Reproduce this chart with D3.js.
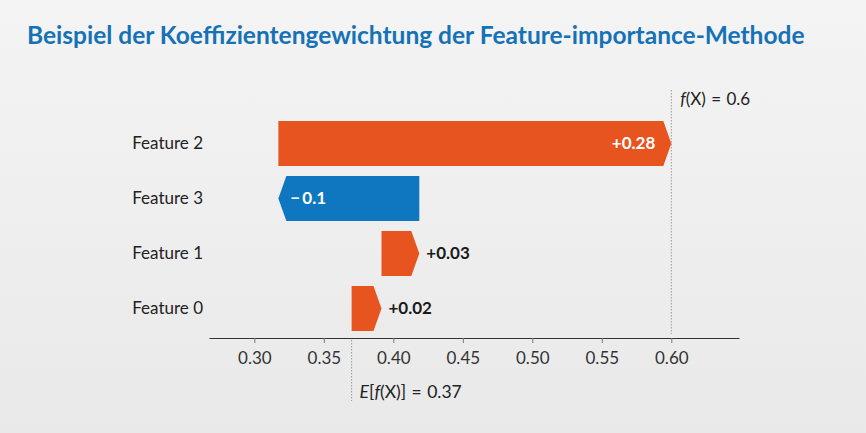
<!DOCTYPE html>
<html>
<head>
<meta charset="utf-8">
<script src="https://cdn.jsdelivr.net/npm/d3@7"></script>
<style>
  html, body { margin: 0; padding: 0; }
  body { width: 866px; height: 433px; overflow: hidden; }
</style>
</head>
<body>
<svg id="chart" width="866" height="433"></svg>
<script>
/////////////////////////
// Données
/////////////////////////

var features = ["Feature 2", "Feature 3", "Feature 1", "Feature 0"];
var contributions = [0.2827, -0.1014, 0.0272, 0.0215];   // valeurs SHAP
var valueLabels = ["+0.28", "\u2212\u20090.1", "+0.03", "+0.02"];
var baseValue = 0.37;        // E[f(X)]
var outputValue = 0.60;      // f(X)
var tickValues = [0.30, 0.35, 0.40, 0.45, 0.50, 0.55, 0.60];

var posColor = "#e8541f";
var negColor = "#0e77bf";

/////////////////////////
// Mise en place
/////////////////////////

var svg = d3.select("#chart");

var bg = svg.append("defs").append("linearGradient")
    .attr("id", "bg").attr("x1", 0).attr("y1", 0).attr("x2", 0).attr("y2", 1);
bg.append("stop").attr("offset", "0%").attr("stop-color", "#f4f4f4");
bg.append("stop").attr("offset", "100%").attr("stop-color", "#e9e9e9");

svg.append("rect").attr("width", 866).attr("height", 433).attr("fill", "url(#bg)");

svg.append("text")
    .attr("x", 27).attr("y", 44)
    .attr("font-family", "Lato").attr("font-weight", 700).attr("font-size", "24.5px")
    .attr("fill", "#1672b6")
    .text("Beispiel der Koeffizientengewichtung der Feature-importance-Methode");

var x = d3.scaleLinear().domain([0.2674, 0.6487]).range([209, 739]);
var y = d3.scalePoint().domain(features).range([143.5, 308.5]);
var barH = 45, tip = 8;

// cumul des contributions, du bas (Feature 0) vers le haut
var rows = [];
var acc = baseValue;
for (var i = features.length - 1; i >= 0; i--) {
    rows.push({ name: features[i], v: contributions[i], label: valueLabels[i], start: acc, end: acc + contributions[i] });
    acc += contributions[i];
}

/////////////////////////
// Lignes de référence
/////////////////////////

svg.append("line")
    .attr("x1", x(outputValue)).attr("x2", x(outputValue))
    .attr("y1", 90).attr("y2", 334)
    .attr("stroke", "#999").attr("stroke-width", 1).attr("stroke-dasharray", "1.5,1.5");

svg.append("line")
    .attr("x1", x(baseValue)).attr("x2", x(baseValue))
    .attr("y1", 340).attr("y2", 401)
    .attr("stroke", "#999").attr("stroke-width", 1).attr("stroke-dasharray", "1.5,1.5");

/////////////////////////
// Barres
/////////////////////////

function arrowPath(d) {
    var cy = y(d.name), t = cy - barH / 2, b = cy + barH / 2;
    var x0 = x(d.start), x1 = x(d.end);
    var dir = d.v >= 0 ? 1 : -1;
    var k = Math.min(tip, Math.abs(x1 - x0));
    return "M" + x0 + "," + t +
        "L" + (x1 - dir * k) + "," + t +
        "L" + x1 + "," + cy +
        "L" + (x1 - dir * k) + "," + b +
        "L" + x0 + "," + b + "Z";
}

var bars = svg.append("g").attr("id", "bars")
    .selectAll("g").data(rows).enter().append("g");

bars.append("path")
    .attr("d", arrowPath)
    .attr("fill", function(d){ return d.v >= 0 ? posColor : negColor; });

bars.append("text")
    .attr("font-family", "Lato").attr("font-weight", 700).attr("font-size", "17px")
    .attr("dy", "0.35em")
    .attr("y", function(d){ return y(d.name); })
    .each(function(d) {
        var w = Math.abs(x(d.end) - x(d.start));
        var inside = w > 60;
        var t = d3.select(this);
        if (inside) {
            t.attr("fill", "#fff");
            if (d.v >= 0) t.attr("x", x(d.end) - 16).attr("text-anchor", "end");
            else t.attr("x", x(d.end) + 12).attr("text-anchor", "start");
        } else {
            t.attr("fill", "#1a1a1a");
            if (d.v >= 0) t.attr("x", x(d.end) + 7).attr("text-anchor", "start");
            else t.attr("x", x(d.end) - 7).attr("text-anchor", "end");
        }
    })
    .text(function(d){ return d.label; });

// noms des features
svg.append("g").attr("id", "labels")
    .selectAll("text").data(features).enter().append("text")
    .attr("x", 203)
    .attr("y", function(d){ return y(d); })
    .attr("dy", "0.35em")
    .attr("text-anchor", "end")
    .attr("font-family", "Lato").attr("font-size", "17px")
    .attr("fill", "#222")
    .text(function(d){ return d; });

/////////////////////////
// Axe
/////////////////////////

var axis = svg.append("g")
    .attr("transform", "translate(0,338)")
    .call(d3.axisBottom(x).tickValues(tickValues).tickFormat(d3.format(".2f")).tickSize(5).tickSizeOuter(0).tickPadding(9));

axis.select(".domain").attr("stroke", "#333");
axis.selectAll(".tick line").attr("stroke", "#777");
axis.selectAll(".tick text")
    .attr("font-family", "Lato").attr("font-size", "17px").attr("fill", "#333");

// annotations f(X) et E[f(X)]
var fx = svg.append("text")
    .attr("x", x(outputValue) + 9).attr("y", 105)
    .attr("font-family", "Lato").attr("font-size", "17px").attr("fill", "#222")
    .attr("word-spacing", "1px");
fx.append("tspan").attr("font-style", "italic").text("f");
fx.append("tspan").text("(X) = 0.6");

var ex = svg.append("text")
    .attr("x", x(baseValue) + 8).attr("y", 398)
    .attr("font-family", "Lato").attr("font-size", "17.5px").attr("fill", "#222")
    .attr("word-spacing", "1px");
ex.append("tspan").attr("font-style", "italic").text("E");
ex.append("tspan").text("[");
ex.append("tspan").attr("font-style", "italic").text("f");
ex.append("tspan").text("(X)] = 0.37");
</script>
</body>
</html>
